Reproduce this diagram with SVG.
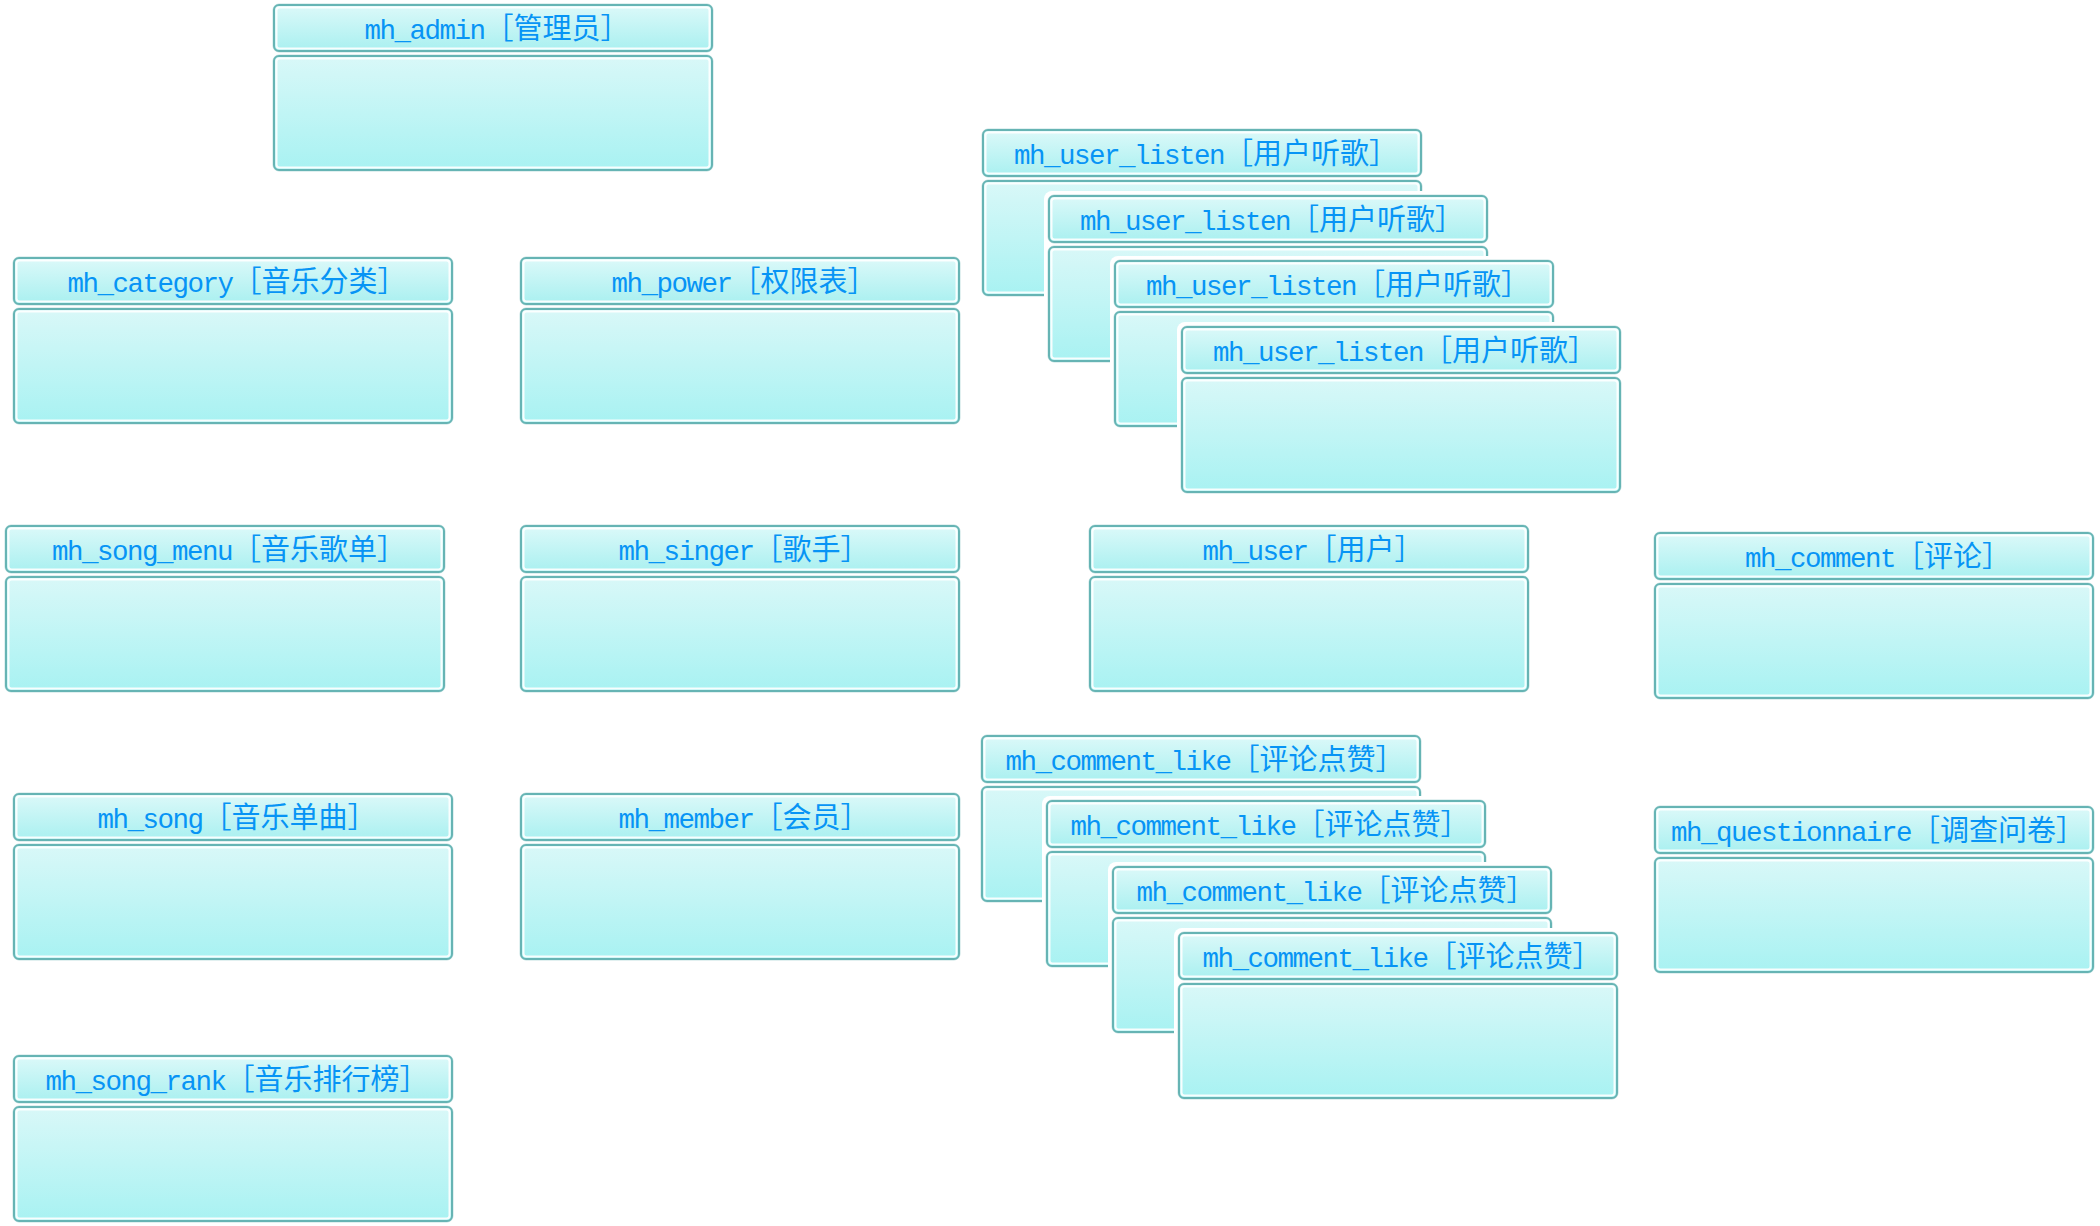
<svg xmlns="http://www.w3.org/2000/svg" xmlns:xlink="http://www.w3.org/1999/xlink" width="2100" height="1226" viewBox="0 0 2100 1226">
<style>
.t{fill:#0794f5;text-anchor:middle;}
.l{font-family:"Liberation Mono","DejaVu Sans Mono",monospace;font-size:27.5px;letter-spacing:-1.5px;}
.c{font-family:"Noto Sans CJK SC","Noto Sans CJK JP",sans-serif;font-size:29px;}
</style>
<defs>
<linearGradient id="gh" x1="0" y1="0" x2="0" y2="1">
<stop offset="0" stop-color="#dcf9f9"/>
<stop offset="1" stop-color="#a9f0f0"/>
</linearGradient>
<linearGradient id="gb" x1="0" y1="0" x2="0" y2="1">
<stop offset="0" stop-color="#d9f8f8"/>
<stop offset="1" stop-color="#a8f2f2"/>
</linearGradient>
<symbol id="box" overflow="visible">
<rect x="-4" y="-4" width="448" height="175" rx="8" fill="#ffffff"/>
<rect x="0" y="0" width="440" height="48" rx="6" fill="none" stroke="#c4e2e2" stroke-width="1"/>
<rect x="1" y="1" width="438" height="46" rx="5" fill="url(#gh)" stroke="#66b4b4" stroke-width="2"/>
<rect x="3.5" y="3.5" width="433" height="41" rx="3" fill="none" stroke="#ffffff" stroke-width="2" opacity="0.9"/>
<rect x="0" y="51" width="440" height="116" rx="6" fill="none" stroke="#c4e2e2" stroke-width="1"/>
<rect x="1" y="52" width="438" height="114" rx="5" fill="url(#gb)" stroke="#66b4b4" stroke-width="2"/>
<rect x="3.5" y="54.5" width="433" height="109" rx="3" fill="none" stroke="#ffffff" stroke-width="2" opacity="0.9"/>
</symbol>
</defs>
<rect width="2100" height="1226" fill="#ffffff"/>
<g id="connectors"/>
<g id="mh_admin"><use xlink:href="#box" x="273" y="4"/><text class="t" x="497" y="39"><tspan class="l">mh_admin</tspan><tspan class="c">［管理员］</tspan></text></g>
<g id="mh_category"><use xlink:href="#box" x="13" y="257"/><text class="t" x="237" y="292"><tspan class="l">mh_category</tspan><tspan class="c">［音乐分类］</tspan></text></g>
<g id="mh_power"><use xlink:href="#box" x="520" y="257"/><text class="t" x="744" y="292"><tspan class="l">mh_power</tspan><tspan class="c">［权限表］</tspan></text></g>
<g id="mh_song_menu"><use xlink:href="#box" x="5" y="525"/><text class="t" x="229" y="560"><tspan class="l">mh_song_menu</tspan><tspan class="c">［音乐歌单］</tspan></text></g>
<g id="mh_singer"><use xlink:href="#box" x="520" y="525"/><text class="t" x="744" y="560"><tspan class="l">mh_singer</tspan><tspan class="c">［歌手］</tspan></text></g>
<g id="mh_user"><use xlink:href="#box" x="1089" y="525"/><text class="t" x="1313" y="560"><tspan class="l">mh_user</tspan><tspan class="c">［用户］</tspan></text></g>
<g id="mh_comment"><use xlink:href="#box" x="1654" y="532"/><text class="t" x="1878" y="567"><tspan class="l">mh_comment</tspan><tspan class="c">［评论］</tspan></text></g>
<g id="mh_song"><use xlink:href="#box" x="13" y="793"/><text class="t" x="237" y="828"><tspan class="l">mh_song</tspan><tspan class="c">［音乐单曲］</tspan></text></g>
<g id="mh_member"><use xlink:href="#box" x="520" y="793"/><text class="t" x="744" y="828"><tspan class="l">mh_member</tspan><tspan class="c">［会员］</tspan></text></g>
<g id="mh_questionnaire"><use xlink:href="#box" x="1654" y="806"/><text class="t" x="1878" y="841"><tspan class="l">mh_questionnaire</tspan><tspan class="c">［调查问卷］</tspan></text></g>
<g id="mh_song_rank"><use xlink:href="#box" x="13" y="1055"/><text class="t" x="237" y="1090"><tspan class="l">mh_song_rank</tspan><tspan class="c">［音乐排行榜］</tspan></text></g>
<g id="mh_user_listen_1"><use xlink:href="#box" x="982" y="129"/><text class="t" x="1206" y="164"><tspan class="l">mh_user_listen</tspan><tspan class="c">［用户听歌］</tspan></text></g>
<g id="mh_user_listen_2"><use xlink:href="#box" x="1048" y="195"/><text class="t" x="1272" y="230"><tspan class="l">mh_user_listen</tspan><tspan class="c">［用户听歌］</tspan></text></g>
<g id="mh_user_listen_3"><use xlink:href="#box" x="1114" y="260"/><text class="t" x="1338" y="295"><tspan class="l">mh_user_listen</tspan><tspan class="c">［用户听歌］</tspan></text></g>
<g id="mh_user_listen_4"><use xlink:href="#box" x="1181" y="326"/><text class="t" x="1405" y="361"><tspan class="l">mh_user_listen</tspan><tspan class="c">［用户听歌］</tspan></text></g>
<g id="mh_comment_like_1"><use xlink:href="#box" x="981" y="735"/><text class="t" x="1205" y="770"><tspan class="l">mh_comment_like</tspan><tspan class="c">［评论点赞］</tspan></text></g>
<g id="mh_comment_like_2"><use xlink:href="#box" x="1046" y="800"/><text class="t" x="1270" y="835"><tspan class="l">mh_comment_like</tspan><tspan class="c">［评论点赞］</tspan></text></g>
<g id="mh_comment_like_3"><use xlink:href="#box" x="1112" y="866"/><text class="t" x="1336" y="901"><tspan class="l">mh_comment_like</tspan><tspan class="c">［评论点赞］</tspan></text></g>
<g id="mh_comment_like_4"><use xlink:href="#box" x="1178" y="932"/><text class="t" x="1402" y="967"><tspan class="l">mh_comment_like</tspan><tspan class="c">［评论点赞］</tspan></text></g>
</svg>
